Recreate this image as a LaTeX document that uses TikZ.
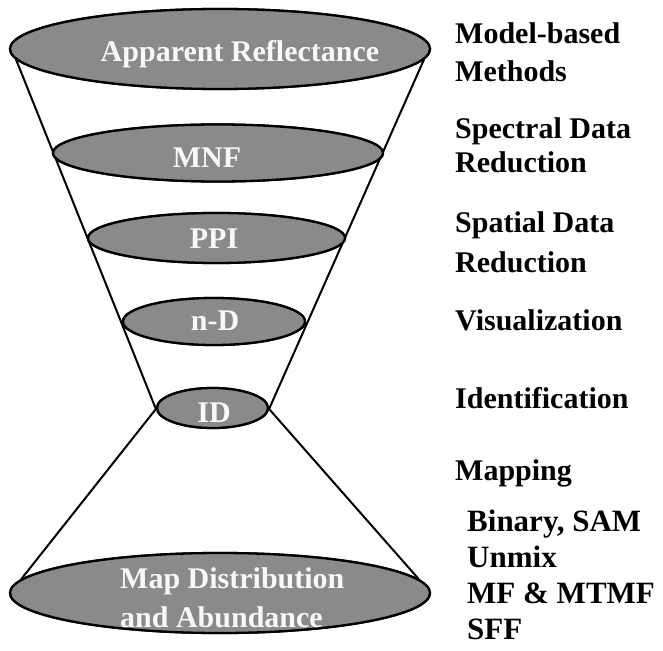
\documentclass[tikz,border=0pt]{standalone}
\usepackage{fontspec}
\setmainfont{Liberation Serif}
\usetikzlibrary{shapes.geometric}
\definecolor{fillgray}{RGB}{138,138,138}
\definecolor{offwhite}{RGB}{248,248,248}
\tikzset{
  lev/.style={ellipse, draw=black, line width=2.3bp, fill=fillgray, inner sep=0pt},
  intext/.style={text=offwhite, font=\fontsize{30bp}{38bp}\selectfont\bfseries, inner sep=0pt},
  side/.style={text=black, font=\fontsize{30bp}{36bp}\selectfont\bfseries, inner sep=0pt, anchor=base west},
  sub/.style={text=black, font=\fontsize{31bp}{36bp}\selectfont\bfseries, inner sep=0pt, anchor=base west},
  cone/.style={draw=black, line width=2bp}
}
\begin{document}
\begin{tikzpicture}[x=1bp,y=-1bp]
\useasboundingbox[fill=white] (0,0) rectangle (663,651);
% ellipses (levels)
\node[lev, minimum width=420bp, minimum height=80bp] (e1) at (220,49) {};
\node[lev, minimum width=330bp, minimum height=57bp] (e2) at (218,153) {};
\node[lev, minimum width=257bp, minimum height=50bp] (e3) at (216.5,238) {};
\node[lev, minimum width=182bp, minimum height=47bp] (e4) at (214,321.5) {};
\node[lev, minimum width=111bp, minimum height=40bp] (e5) at (212.5,408) {};
\node[lev, minimum width=420bp, minimum height=80bp] (e6) at (220,593) {};
% cone lines
\draw[cone] (e1.183) -- (e5.181);
\draw[cone] (e1.357) -- (e5.359);
\draw[cone] (e5.181) -- (e6.176);
\draw[cone] (e5.359) -- (e6.4.5);
% redraw ellipses on top
\node[lev, minimum width=420bp, minimum height=80bp] at (e1) {};
\node[lev, minimum width=330bp, minimum height=57bp] at (e2) {};
\node[lev, minimum width=257bp, minimum height=50bp] at (e3) {};
\node[lev, minimum width=182bp, minimum height=47bp] at (e4) {};
\node[lev, minimum width=111bp, minimum height=40bp] at (e5) {};
\node[lev, minimum width=420bp, minimum height=80bp] at (e6) {};
% texts in ellipses
\node[intext, anchor=base] (t1) at (240,62) {Apparent Reflectance};
\node[intext, anchor=base] (t2) at (207,167) {MNF};
\node[intext, anchor=base] (t3) at (214,248) {PPI};
\node[intext, anchor=base] (t4) at (215,330) {n-D};
\node[intext, anchor=base] (t5) at (214,422) {ID};
\node[intext, anchor=base west] (t6a) at (120,588) {Map Distribution};
\node[intext, anchor=base west] (t6b) at (120,627) {and Abundance};
% side labels
\node[side] (s1) at (455,44) {Model-based};
\node[side] (s2) at (455,82) {Methods};
\node[side] (s3) at (455,138) {Spectral Data};
\node[side] (s4) at (455,172) {Reduction};
\node[side] (s5) at (455,232) {Spatial Data};
\node[side] (s6) at (455,272) {Reduction};
\node[side] (s7) at (455,330) {Visualization};
\node[side] (s8) at (455,408) {Identification};
\node[side] (s9) at (455,480) {Mapping};
\node[sub] (m1) at (467,531) {Binary, SAM};
\node[sub] (m2) at (467,567) {Unmix};
\node[sub] (m3) at (467,603) {MF \& MTMF};
\node[sub] (m4) at (467,639) {SFF};
\end{tikzpicture}
\end{document}
